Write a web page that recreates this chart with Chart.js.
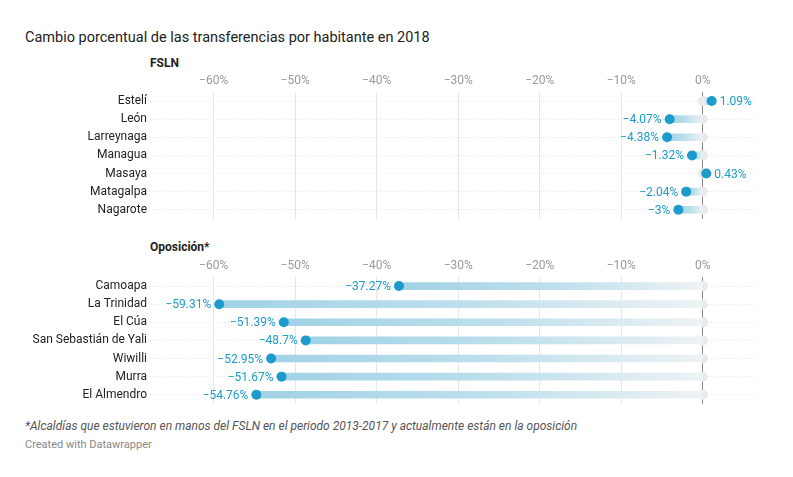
<!DOCTYPE html>
<html><head><meta charset="utf-8">
<script src="https://cdn.jsdelivr.net/npm/chart.js@4"></script>
<style>
body{margin:0;width:793px;height:477px;background:#fff;font-family:Roboto,sans-serif;position:relative;overflow:hidden}
.t{position:absolute;white-space:nowrap}
canvas{position:absolute;left:0}
</style></head><body>
<div class="t" style="left:25px;top:29px;font-size:14.5px;color:#222">Cambio porcentual de las transferencias por habitante en 2018</div>
<div class="t" style="left:150px;top:56px;font-size:12px;font-weight:bold;color:#222">FSLN</div>
<div class="t" style="left:150px;top:240px;font-size:12px;font-weight:bold;color:#222">Oposición*</div>
<div class="t" style="left:25px;top:419px;font-size:12px;font-style:italic;color:#555">*Alcaldías que estuvieron en manos del FSLN en el periodo 2013-2017 y actualmente están en la oposición</div>
<div class="t" style="left:25px;top:438px;font-size:11px;color:#888">Created with Datawrapper</div>
<div style="position:absolute;left:0;top:71px;width:793px;height:158px"><canvas id="c1"></canvas></div>
<div style="position:absolute;left:0;top:256px;width:793px;height:158px"><canvas id="c2"></canvas></div>
<script>
const fslnCities=["Estelí","León","Larreynaga","Managua","Masaya","Matagalpa","Nagarote"];
const fslnValues=[1.09,-4.07,-4.38,-1.32,0.43,-2.04,-3];
const opoCities=["Camoapa","La Trinidad","El Cúa","San Sebastián de Yali","Wiwilli","Murra","El Almendro"];
const opoValues=[-37.27,-59.31,-51.39,-48.7,-52.95,-51.67,-54.76];
const ticks=[-60,-50,-40,-30,-20,-10,0];
const BLUE='#1d9ccb';
function fmt(v){return (v<0?'\u2212':'')+Math.abs(v)+'%';}
const labelPlugin={id:'lbl',afterDatasetsDraw(ch){
  const c=ch.ctx,vals=ch.config.options.vals;const x=ch.scales.x,y=ch.scales.y;
  c.save();c.font='12px Roboto';c.fillStyle=BLUE;c.textBaseline='middle';
  vals.forEach((v,i)=>{const px=x.getPixelForValue(v),py=y.getPixelForValue(i);
    if(v<0){c.textAlign='right';c.fillText(fmt(v),px-8,py+1);}else{c.textAlign='left';c.fillText(fmt(v),px+8,py+1);}});
  c.restore();}};
function make(id,cats,vals){
  new Chart(document.getElementById(id),{
    data:{labels:cats,datasets:[
      {type:'scatter',data:vals.map((v,i)=>({x:v,y:i})),pointRadius:5,pointBackgroundColor:BLUE,pointBorderWidth:0,order:0},
      {type:'scatter',data:vals.map((v,i)=>({x:0,y:i})),pointRadius:5,pointBackgroundColor:'#e9e9e9',pointBorderWidth:0,order:2},
      {type:'bar',data:vals.map(v=>[v,0]),barThickness:7,order:1,borderSkipped:false,
       backgroundColor(ctx){const ch=ctx.chart;if(!ch.chartArea)return '#a8d6e8';
         const v=vals[ctx.dataIndex];const x0=ch.scales.x.getPixelForValue(0),xv=ch.scales.x.getPixelForValue(v);
         if(Math.abs(x0-xv)<1)return '#a8d6e8';
         const g=ch.ctx.createLinearGradient(xv,0,x0,0);g.addColorStop(0,'#a1d2e6');g.addColorStop(0.5,'#bcdfec');g.addColorStop(1,'#eef2f4');return g;}}
    ]},
    options:{vals,indexAxis:'y',responsive:true,maintainAspectRatio:false,animation:false,
      layout:{padding:{right:38,bottom:3}},
      plugins:{legend:{display:false},tooltip:{enabled:false}},
      scales:{
        x:{type:'linear',position:'top',min:-67.8,max:6.4,
          afterBuildTicks(s){s.ticks=ticks.map(v=>({value:v}));},
          afterFit(s){s.height=21;},
          ticks:{color:'#999',font:{family:'Roboto',size:12},padding:4,callback:v=>fmt(v)},
          grid:{color:c=>c.tick&&c.tick.value===0?'#888':'#e6e6e6',drawTicks:false},border:{display:false}},
        y:{type:'category',labels:cats,offset:true,
          afterFit(s){s.width=150;},
          ticks:{color:'#222',font:{family:'Roboto',size:12},padding:3,autoSkip:false},
          grid:{offset:false,color:'#e4e4e4',drawTicks:false,tickLength:0},border:{display:false,dash:[1,2]}}
      }},
    plugins:[labelPlugin]
  });
}
Chart.defaults.font.family='Roboto';
make('c1',fslnCities,fslnValues);
make('c2',opoCities,opoValues);
</script></body></html>
